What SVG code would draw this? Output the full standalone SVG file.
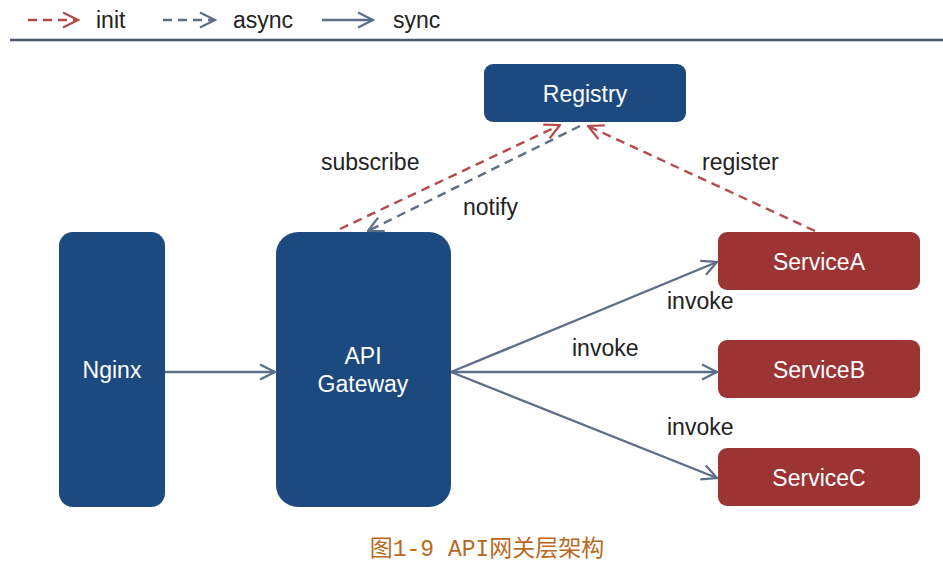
<svg xmlns="http://www.w3.org/2000/svg" width="943" height="565" viewBox="0 0 943 565">
<style>
.t{font-family:"Liberation Sans",Arial,sans-serif;font-size:23px;fill:#222}
.w{font-family:"Liberation Sans",Arial,sans-serif;font-size:23px;fill:#fff;text-anchor:middle}
.blue{fill:#1d4a7e}
.red{fill:#9c3434}
.sync{stroke:#5d6e89;stroke-width:2.4;fill:none}
.init{stroke:#b44a4a;stroke-width:2.4;fill:none;stroke-dasharray:9 6}
.async{stroke:#5d6e89;stroke-width:2.4;fill:none;stroke-dasharray:9 6}
</style>
<defs>
<marker id="ms" viewBox="0 0 12 12" refX="11" refY="6" markerWidth="18" markerHeight="18" markerUnits="userSpaceOnUse" orient="auto"><path d="M1,1 L11,6 L1,11" fill="none" stroke="#5d6e89" stroke-width="1.5"/></marker>
<marker id="mr" viewBox="0 0 12 12" refX="11" refY="6" markerWidth="18" markerHeight="18" markerUnits="userSpaceOnUse" orient="auto"><path d="M1,1 L11,6 L1,11" fill="none" stroke="#b44a4a" stroke-width="1.5"/></marker>
</defs>
<rect width="943" height="565" fill="#fff"/>
<g id="legend">
<line class="init" x1="28" y1="20" x2="78" y2="20" marker-end="url(#mr)"/>
<text class="t" x="96" y="28">init</text>
<line class="async" x1="163" y1="20" x2="215" y2="20" marker-end="url(#ms)"/>
<text class="t" x="233" y="28">async</text>
<line class="sync" x1="322" y1="20" x2="373" y2="20" marker-end="url(#ms)"/>
<text class="t" x="393" y="28">sync</text>
<line x1="10" y1="40" x2="943" y2="40" stroke="#4a5870" stroke-width="2.5"/>
</g>
<g id="registry"><rect class="blue" x="484" y="64" width="202" height="58" rx="9"/><text class="w" x="585" y="102">Registry</text></g>
<g id="nginx"><rect class="blue" x="59" y="232" width="106" height="275" rx="14"/><text class="w" x="112" y="378">Nginx</text></g>
<g id="gateway"><rect class="blue" x="276" y="232" width="175" height="275" rx="22"/><text class="w" x="363" y="364">API</text><text class="w" x="363" y="392">Gateway</text></g>
<g id="serviceA"><rect class="red" x="718" y="232" width="202" height="58" rx="9"/><text class="w" x="819" y="270">ServiceA</text></g>
<g id="serviceB"><rect class="red" x="718" y="340" width="202" height="58" rx="9"/><text class="w" x="819" y="378">ServiceB</text></g>
<g id="serviceC"><rect class="red" x="718" y="448" width="202" height="58" rx="9"/><text class="w" x="819" y="486">ServiceC</text></g>
<g id="connectors">
<line class="sync" x1="165" y1="372" x2="275" y2="372" marker-end="url(#ms)"/>
<line class="sync" x1="451" y1="372" x2="717" y2="262" marker-end="url(#ms)"/>
<line class="sync" x1="451" y1="372" x2="717" y2="372" marker-end="url(#ms)"/>
<line class="sync" x1="451" y1="372" x2="717" y2="478" marker-end="url(#ms)"/>
<line class="init" x1="340" y1="229" x2="560" y2="125" marker-end="url(#mr)"/>
<line class="async" x1="580" y1="126" x2="368" y2="231" marker-end="url(#ms)"/>
<line class="init" x1="815" y1="231" x2="588" y2="126" marker-end="url(#mr)"/>
</g>
<g id="labels">
<text class="t" x="321" y="170">subscribe</text>
<text class="t" x="463" y="215">notify</text>
<text class="t" x="702" y="170">register</text>
<text class="t" x="667" y="309">invoke</text>
<text class="t" x="572" y="356">invoke</text>
<text class="t" x="667" y="435">invoke</text>
</g>
<text x="487" y="556" text-anchor="middle" font-family="Liberation Mono,'Noto Sans CJK SC',monospace" font-size="23" fill="#b8691f">图1-9 API网关层架构</text>
</svg>
